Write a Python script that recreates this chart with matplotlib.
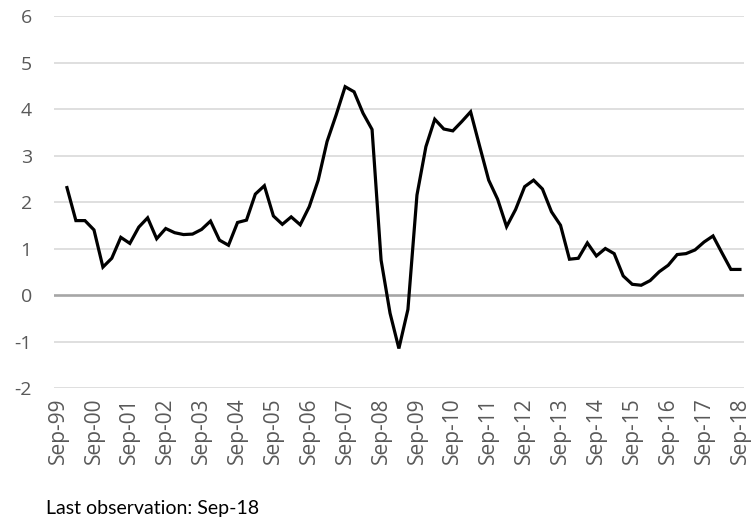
import pandas as pd
import matplotlib
matplotlib.use("Agg")
import matplotlib.pyplot as plt
import matplotlib.dates as mdates

# quarterly observations, Dec-99 .. Sep-18
start_date = "1999-12-01"
values = [
    2.31, 1.60, 1.60, 1.40, 0.60, 0.79, 1.24, 1.11, 1.46, 1.66,
    1.21, 1.43, 1.34, 1.30, 1.31, 1.41, 1.59, 1.18, 1.07, 1.56,
    1.61, 2.17, 2.35, 1.70, 1.52, 1.68, 1.51, 1.90, 2.47, 3.30,
    3.87, 4.48, 4.37, 3.91, 3.56, 0.75, -0.39, -1.15, -0.31, 2.15,
    3.19, 3.78, 3.57, 3.53, 3.73, 3.94, 3.20, 2.47, 2.06, 1.47,
    1.84, 2.33, 2.47, 2.28, 1.79, 1.50, 0.77, 0.79, 1.12, 0.84,
    1.00, 0.89, 0.41, 0.23, 0.21, 0.31, 0.50, 0.64, 0.87, 0.89,
    0.97, 1.14, 1.27, 0.91, 0.55, 0.55,
]
dates = pd.date_range(start_date, periods=len(values), freq="3MS")

tick_dates = pd.date_range("1999-09-01", "2018-09-01", freq="12MS")
y_ticks = [-2, -1, 0, 1, 2, 3, 4, 5, 6]
footnote = "Last observation: Sep-18"

fig = plt.figure(figsize=(7.54, 5.23), dpi=100)
ax = fig.add_axes([0.0716, 0.2581, 0.9151, 0.7113])

for s in ax.spines.values():
    s.set_visible(False)

# horizontal gridlines, zero line darker
for y in y_ticks:
    if y == 0:
        continue
    ax.axhline(y, color="#d9d9d9", lw=1.2, zorder=1)
ax.axhline(0, color="#a6a6a6", lw=1.9, zorder=1)

ax.plot(dates, values, color="black", lw=2.3, zorder=3, solid_joinstyle="miter")

ax.set_ylim(-2, 6)
ax.set_yticks(y_ticks)
ax.set_yticklabels([str(v) for v in y_ticks])
pad = pd.Timedelta(days=41)
ax.set_xlim(tick_dates[0] - pad, tick_dates[-1] + pad)
ax.set_xticks(tick_dates)
ax.xaxis.set_major_formatter(mdates.DateFormatter("%b-%y"))

ax.tick_params(axis="y", length=0, pad=16, labelcolor="#595959", labelsize=14)
ax.tick_params(axis="x", length=0, pad=7, labelcolor="#595959", labelsize=15,
               rotation=90)
for lab in ax.get_xticklabels() + ax.get_yticklabels():
    lab.set_family("Open Sans")

fig.text(0.061, 0.012, footnote, fontsize=14, family="Lato",
         color="black", ha="left", va="bottom")

fig.savefig("out.png", dpi=100)
